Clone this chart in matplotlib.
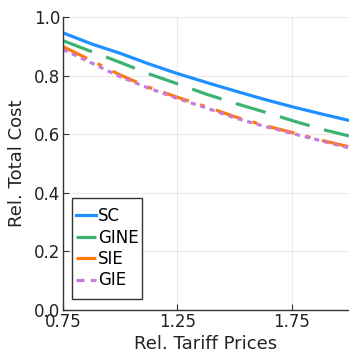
import matplotlib
matplotlib.use("Agg")
import matplotlib.pyplot as plt
from matplotlib.patches import Rectangle
import numpy as np

x = [0.75, 0.875, 1.0, 1.125, 1.25, 1.375, 1.5, 1.625, 1.75, 1.875, 2.0]
sc = [0.946, 0.908, 0.876, 0.840, 0.807, 0.777, 0.748, 0.720, 0.694, 0.670, 0.647]
gine = [0.919, 0.882, 0.845, 0.806, 0.772, 0.737, 0.706, 0.677, 0.647, 0.618, 0.594]
sie = [0.899, 0.851, 0.802, 0.760, 0.726, 0.694, 0.660, 0.631, 0.606, 0.580, 0.557]
gie = [0.889, 0.843, 0.796, 0.757, 0.722, 0.690, 0.656, 0.628, 0.603, 0.578, 0.553]

xticks = [0.75, 1.25, 1.75]
yticks = [0.0, 0.2, 0.4, 0.6, 0.8, 1.0]

fig = plt.figure(figsize=(3.49, 3.55), dpi=100)
ax = fig.add_axes([63/349, 45/355, 286/349, 293/355])

lw = 2.3
ax.plot(x, sc, color="#1E90FF", lw=lw, label="SC")
ax.plot(x, gine, color="#3CB371", lw=lw, label="GINE", dashes=(9.7, 4.7))
ax.plot(x, sie, color="#FF7A0A", lw=lw, label="SIE", dashes=(8.4, 3.7, 1.5, 3.7))
ax.plot(x, gie, color="#C77CDB", lw=lw, label="GIE", dashes=(1.6, 1.5))

ax.set_xlim(0.75, 2.0)
ax.set_ylim(0.0, 1.0)
ax.set_xticks(xticks)
ax.set_xticklabels(["0.75", "1.25", "1.75"])
ax.set_yticks(yticks)
ax.set_yticklabels([f"{v:.1f}" for v in yticks])
ax.grid(True, color="#000000", alpha=0.08, lw=0.8)
ax.spines["top"].set_visible(False)
ax.spines["right"].set_visible(False)
for s in ("left", "bottom"):
    ax.spines[s].set_color("#333333")
    ax.spines[s].set_linewidth(1.0)
ax.tick_params(direction="in", length=4, labelsize=12, colors="#333333", labelcolor="#222222", pad=2)
ax.set_xlabel("Rel. Tariff Prices", fontsize=13, color="#222222", labelpad=3)
ax.set_ylabel("Rel. Total Cost", fontsize=13, color="#222222", labelpad=6)

leg = ax.legend(loc="lower left", fontsize=12, frameon=False,
                handlelength=1.2, handletextpad=0.15, borderpad=0.1, labelspacing=0.2,
                borderaxespad=0.0, bbox_to_anchor=(11/286, 19/293))
for h in leg.legend_handles:
    h.set_linewidth(lw)
leg.legend_handles[3].set_dashes((2.5, 2.0))

fig.canvas.draw()
bb = leg.get_window_extent()
padx, pady = 2, 8
rect = Rectangle((bb.x0 - padx, bb.y0 - pady), bb.width + 2 * padx, bb.height + 2 * pady,
                 transform=None, fill=True, facecolor="white", edgecolor="#333333",
                 linewidth=1.0, zorder=4)
fig.add_artist(rect)
leg.set_zorder(5)
leg.remove()
fig.add_artist(leg)

fig.savefig("out.png", dpi=100)
